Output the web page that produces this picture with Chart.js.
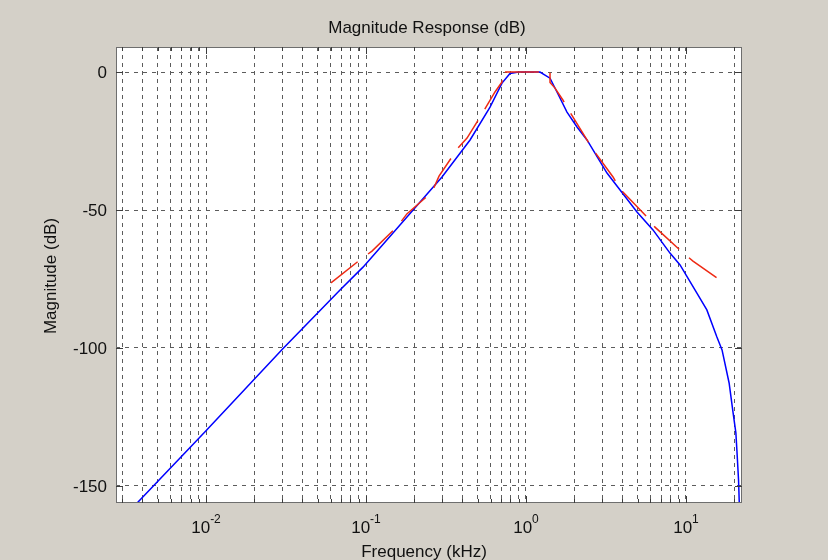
<!DOCTYPE html>
<html>
<head>
<meta charset="utf-8">
<title>Magnitude Response (dB)</title>
<script src="https://cdn.jsdelivr.net/npm/chart.js@4/dist/chart.umd.min.js"></script>
<style>
    html, body { margin: 0; padding: 0; background: #d4d0c8; }
    #wrap { width: 828px; height: 560px; position: relative; }
</style>
</head>
<body>
<div id="wrap"><canvas id="chart-mag" width="828" height="560"></canvas></div>
<script>
// filter response (kHz, dB)
const freqFilter = [0.0036, 0.01, 0.03, 0.0688, 0.0958, 0.135, 0.202, 0.2985, 0.447, 0.596, 0.708, 0.794,
    0.9, 1.1, 1.223, 1.413, 1.562, 1.804, 2.084, 2.406, 3.208, 4.94, 6.22, 7.94, 9.18, 10, 11.7, 13.5,
    15.6, 16.8, 18.6, 19.7, 20.5, 20.8, 21.3, 21.6];
const magFilter = [-157, -130, -100.5, -79, -70.7, -60.9, -49.3, -38, -24.6, -12.7, -4, -0.5,
    0, 0, 0, -2.2, -7.2, -14.5, -19.9, -24.6, -36.6, -50.7, -57.2, -65.6, -69.9, -73.5, -80.1, -86.2,
    -96, -100.7, -112.7, -123.5, -130.8, -137, -147.8, -158.7];

// specification curve (kHz, dB)
const freqSpec = [0.0604, 0.093, 0.109, 0.158, 0.180, 0.2585, 0.286, 0.376, 0.428, 0.539, 0.64, 0.708, 0.708,
    0.74, 1.30, 1.413, 1.413, 1.518, 1.70, 1.884, 2.405, 2.66, 3.5, 3.87, 5.70, 6.4, 9.44, 11.06, 15.6];
const magSpec = [-76.4, -67.8, -64.9, -55.8, -51.4, -43.5, -37.7, -27.5, -23.9, -14.5, -7.2, -3.6, 0.6,
    0, 0, 0.4, -3.8, -5.8, -10.1, -14.5, -24.6, -28.6, -38.0, -42.4, -52.5, -56.2, -65.2, -68.5, -74.6];

const yTicks = [0, -50, -100, -150];
const xDecades = [-2, -1, 0, 1];
const xTickBase = "10";

const X_MIN = 0.002738, X_MAX = 22.39;
const Y_MIN = -156.2, Y_MAX = 9.1;

const FONT = "Liberation Sans, Arial, sans-serif";
const GRID_COLOR = "#5c5c5c";

function toPoints(xs, ys) {
    return xs.map((x, i) => ({ x: x, y: ys[i] }));
}

// grid lines at 1..9 x 10^k inside the visible range
function logGridValues() {
    const vals = [];
    for (let k = -3; k <= 1; k++) {
        for (let m = 1; m <= 9; m++) {
            const v = m * Math.pow(10, k);
            if (v >= X_MIN && v <= X_MAX) vals.push(v);
        }
    }
    return vals;
}

/** белый фон области графика */
const plotBackground = {
    id: "plotBackground",
    beforeDraw(chart) {
        const { ctx, chartArea: a } = chart;
        ctx.save();
        ctx.fillStyle = "#ffffff";
        ctx.fillRect(a.left, a.top, a.right - a.left, a.bottom - a.top);
        ctx.restore();
    }
};

/** рамка, внутренние засечки и все подписи */
const axesDecor = {
    id: "axesDecor",
    afterDraw(chart) {
        const { ctx, chartArea: a, scales } = chart;
        const xs = scales.x, ys = scales.y;
        ctx.save();

        // box
        ctx.strokeStyle = "#6e6e6e";
        ctx.lineWidth = 1;
        ctx.strokeRect(a.left + 0.5, a.top + 0.5, a.right - a.left - 1, a.bottom - a.top - 1);

        // tick marks inside the box
        ctx.strokeStyle = "#3c3c3c";
        ctx.beginPath();
        logGridValues().forEach(v => {
            const px = Math.round(xs.getPixelForValue(v)) + 0.5;
            const major = Math.abs(Math.log10(v) - Math.round(Math.log10(v))) < 1e-9;
            const len = major ? 7 : 4;
            ctx.moveTo(px, a.bottom); ctx.lineTo(px, a.bottom - len);
            ctx.moveTo(px, a.top); ctx.lineTo(px, a.top + len);
        });
        yTicks.forEach(v => {
            const py = Math.round(ys.getPixelForValue(v)) + 0.5;
            ctx.moveTo(a.left, py); ctx.lineTo(a.left + 7, py);
            ctx.moveTo(a.right, py); ctx.lineTo(a.right - 7, py);
        });
        ctx.stroke();

        ctx.fillStyle = "#111111";

        // title
        ctx.font = "17px " + FONT;
        ctx.textAlign = "center";
        ctx.textBaseline = "alphabetic";
        ctx.fillText("Magnitude Response (dB)", (a.left + a.right) / 2 - 2, 33);

        // y tick labels
        ctx.textAlign = "right";
        ctx.textBaseline = "middle";
        yTicks.forEach(v => {
            ctx.fillText(String(v), a.left - 9, ys.getPixelForValue(v) + 1);
        });

        // x tick labels: 10 with raised exponent
        ctx.textBaseline = "alphabetic";
        ctx.textAlign = "left";
        xDecades.forEach(k => {
            const px = xs.getPixelForValue(Math.pow(10, k));
            ctx.font = "17px " + FONT;
            const wBase = ctx.measureText(xTickBase).width;
            ctx.font = "12px " + FONT;
            const exp = String(k);
            const wExp = ctx.measureText(exp).width;
            const x0 = px - (wBase + wExp) / 2;
            ctx.font = "17px " + FONT;
            ctx.fillText(xTickBase, x0, 533);
            ctx.font = "12px " + FONT;
            ctx.fillText(exp, x0 + wBase, 523);
        });

        // axis titles
        ctx.font = "17px " + FONT;
        ctx.textAlign = "center";
        ctx.fillText("Frequency (kHz)", (a.left + a.right) / 2 - 5, 557);

        ctx.translate(56, 276);
        ctx.rotate(-Math.PI / 2);
        ctx.textBaseline = "alphabetic";
        ctx.fillText("Magnitude (dB)", 0, 0);

        ctx.restore();
    }
};

function buildMagnitudeChart(ctx) {
    return new Chart(ctx, {
        type: "line",
        data: {
            datasets: [{
                label: "Filter",
                data: toPoints(freqFilter, magFilter),
                borderColor: "#0000ff",
                borderWidth: 1.5,
                pointRadius: 0,
                tension: 0,
                fill: false,
                order: 2
            }, {
                label: "Spec",
                data: toPoints(freqSpec, magSpec),
                borderColor: "#ee2a14",
                borderWidth: 1.5,
                borderDash: [34, 13],
                pointRadius: 0,
                tension: 0,
                fill: false,
                order: 1
            }]
        },
        options: {
            responsive: false,
            animation: false,
            layout: { padding: { left: 116, top: 47, right: 86, bottom: 57 } },
            plugins: {
                legend: { display: false },
                tooltip: { enabled: false }
            },
            scales: {
                x: {
                    type: "logarithmic",
                    min: X_MIN,
                    max: X_MAX,
                    afterBuildTicks: scale => {
                        scale.ticks = logGridValues().map(v => ({ value: v }));
                    },
                    ticks: { display: false },
                    grid: { color: GRID_COLOR, lineWidth: 1, drawTicks: false },
                    border: { display: false, dash: [4, 4] }
                },
                y: {
                    type: "linear",
                    min: Y_MIN,
                    max: Y_MAX,
                    afterBuildTicks: scale => {
                        scale.ticks = yTicks.map(v => ({ value: v }));
                    },
                    ticks: { display: false },
                    grid: { color: GRID_COLOR, lineWidth: 1, drawTicks: false },
                    border: { display: false, dash: [4, 5] }
                }
            }
        },
        plugins: [plotBackground, axesDecor]
    });
}

const ctx = document.getElementById("chart-mag").getContext("2d");
buildMagnitudeChart(ctx);
</script>
</body>
</html>
